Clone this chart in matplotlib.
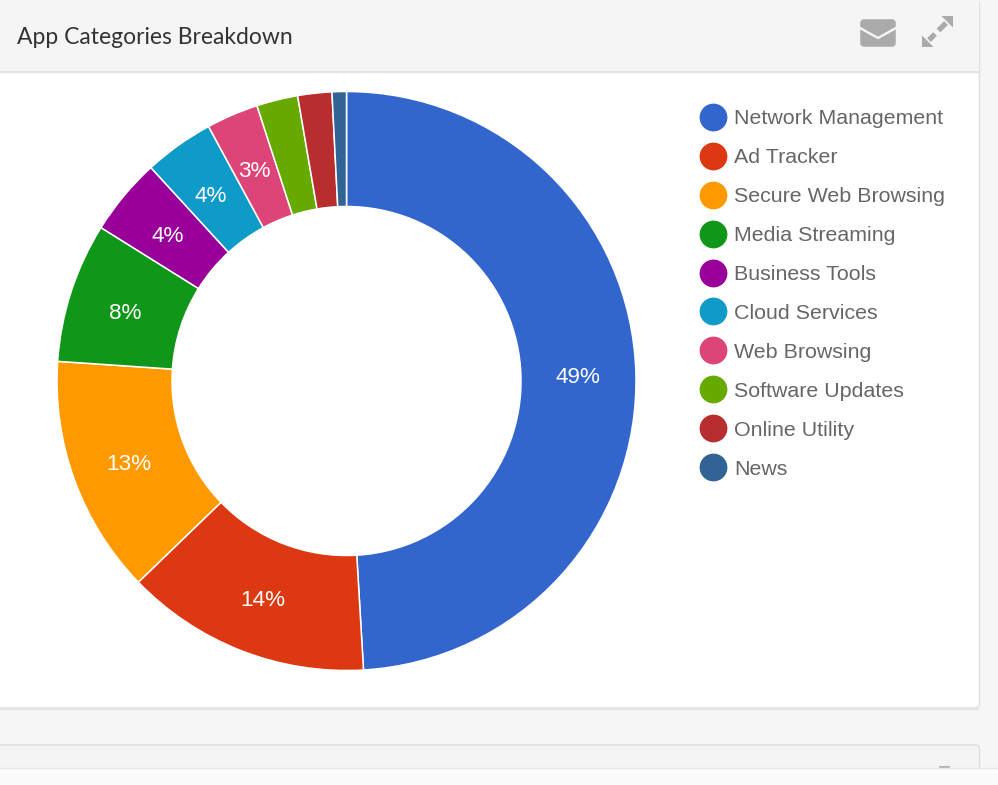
import numpy as np
import matplotlib
matplotlib.use("Agg")
import matplotlib.pyplot as plt
from matplotlib.lines import Line2D
from matplotlib.patches import FancyBboxPatch, Polygon, Rectangle

categories = ["Network Management", "Ad Tracker", "Secure Web Browsing", "Media Streaming",
              "Business Tools", "Cloud Services", "Web Browsing", "Software Updates",
              "Online Utility", "News"]
share = [49.03, 13.7, 13.3, 7.8, 4.3, 3.9, 2.9, 2.3, 1.9, 0.8]
colors = ["#3366cc", "#dc3912", "#ff9900", "#109618", "#990099",
          "#0f9bc8", "#dd4477", "#66aa00", "#b82e2e", "#316395"]
title = "App Categories Breakdown"
min_labelled_share = 2.5

W, H = 998, 785
fig = plt.figure(figsize=(W / 100, H / 100), dpi=100, facecolor="#f6f6f6")

# Page chrome, in pixel coordinates
bg = fig.add_axes([0, 0, 1, 1])
bg.set_xlim(0, W)
bg.set_ylim(H, 0)
bg.axis("off")

bg.add_patch(FancyBboxPatch((-20, 0), 999.5, 708, boxstyle="round,pad=0,rounding_size=4",
                            fc="#ffffff", ec="#e0e0e0", lw=1.0))
bg.add_patch(Rectangle((-20, 0), 999, 71, fc="#f5f5f5", ec="none"))
bg.add_line(Line2D([0, 979], [71.5, 71.5], color="#dedede", lw=1.2))
bg.add_line(Line2D([0, 978], [708.5, 708.5], color="#e4e4e4", lw=1.0))
bg.add_patch(FancyBboxPatch((-20, 745), 999.5, 60, boxstyle="round,pad=0,rounding_size=4",
                            fc="#f4f4f4", ec="#dcdcdc", lw=1.0))
bg.add_line(Line2D([940, 949], [766.5, 766.5], color="#a8a8a8", lw=1.2))
bg.add_patch(Rectangle((0, 768), W, 17, fc="#fbfbfb", ec="none", zorder=3))
bg.add_line(Line2D([0, W], [768, 768], color="#e8e8e8", lw=1.0, zorder=4))

bg.text(17, 37, title, fontsize=16.5, family="Lato", color="#333333", va="center", ha="left")

# Envelope icon
icon = "#aaaaaa"
bg.add_patch(FancyBboxPatch((862, 21), 32, 24, boxstyle="round,pad=0,rounding_size=2",
                            fc=icon, ec=icon, lw=2.5))
bg.add_line(Line2D([860, 878, 896], [28, 38, 28], color="#f5f5f5", lw=1.7))

# Expand icon
bg.add_patch(Polygon([(953, 16), (953, 27.5), (941.5, 16)], fc=icon, ec="none"))
bg.add_patch(Polygon([(922, 47), (922, 35.5), (933.5, 47)], fc=icon, ec="none"))
bg.add_line(Line2D([929, 935], [40, 34], color=icon, lw=3.8, solid_capstyle="butt"))
bg.add_line(Line2D([938.5, 946], [30.5, 23], color=icon, lw=3.8, solid_capstyle="butt"))

# Donut
cx, cy, R = 346.5, 381, 289.5
ax = fig.add_axes([(cx - R) / W, 1 - (cy + R) / H, 2 * R / W, 2 * R / H])
ax.patch.set_alpha(0)
wedges, _ = ax.pie(share, colors=colors, startangle=90, counterclock=False, radius=1,
                   wedgeprops=dict(width=1 - 174.5 / R, edgecolor="white", linewidth=1.1))
for w in wedges:
    w.set_clip_on(False)
ax.set_xlim(-1, 1)
ax.set_ylim(-1, 1)

# Slice labels sit at each slice's middle
label_r = 232 / R
start = 0.0
for s in share:
    theta = np.deg2rad((start + s / 2) * 3.6)
    start += s
    if s >= min_labelled_share:
        ax.annotate(f"{s:.0f}%", (label_r * np.sin(theta), label_r * np.cos(theta)),
                    xytext=(0, -2.6), textcoords="offset points", color="white",
                    fontsize=16.2, family="Liberation Sans", ha="center", va="center")

# Legend
handles = [Line2D([], [], ls="none", marker="o", ms=20, mfc=c, mec=c, mew=0) for c in colors]
leg = fig.legend(handles, categories, loc="upper left", bbox_to_anchor=(696 / W, 1 - 109.5 / H),
                 frameon=False, prop={"family": "Liberation Sans", "size": 15.4},
                 labelspacing=0.93, handletextpad=0.19, handlelength=1.6, borderpad=0, borderaxespad=0)
for t in leg.get_texts():
    t.set_color("#666666")

fig.savefig("out.png", dpi=100, facecolor=fig.get_facecolor())
